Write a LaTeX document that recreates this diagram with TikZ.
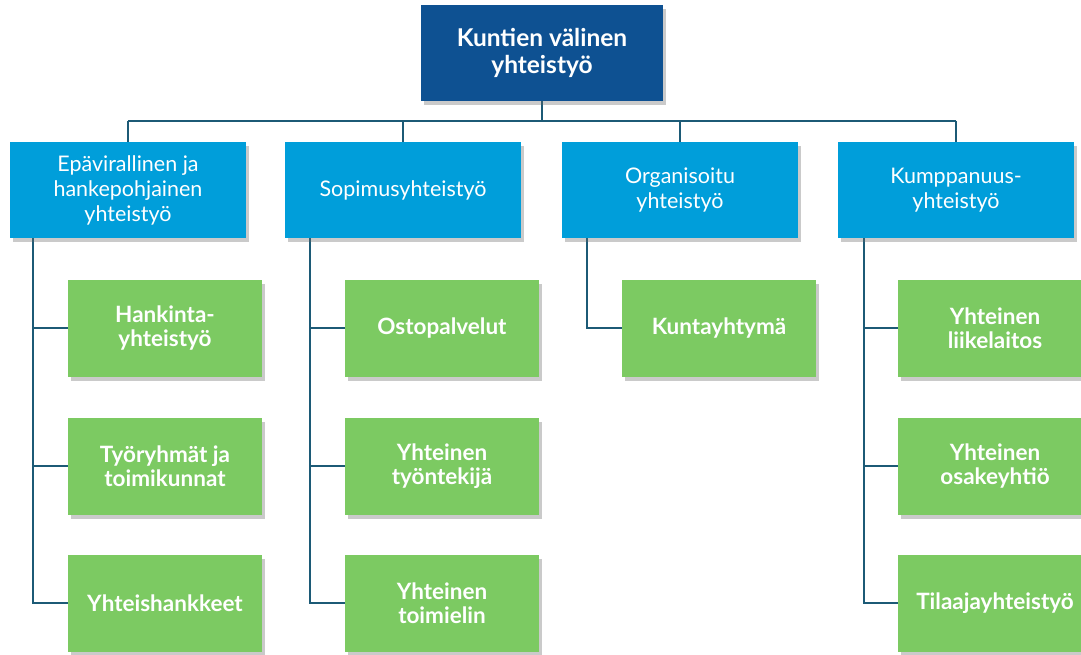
\documentclass[tikz,border=0pt]{standalone}
\usepackage{fontspec}
\setmainfont{Lato}
\usetikzlibrary{shadows}
\pgfdeclarelayer{background}
\pgfsetlayers{background,main}
\definecolor{topblue}{RGB}{14,81,146}
\definecolor{midblue}{RGB}{0,158,218}
\definecolor{leafgreen}{RGB}{124,202,98}
\definecolor{linkteal}{RGB}{28,90,118}
\tikzset{
  boxshadow/.style={drop shadow={shadow xshift=3pt,shadow yshift=-4pt,opacity=0.35,fill=black!60}},
  rootbox/.style={boxshadow,fill=topblue,text=white,minimum width=242pt,minimum height=96pt,
    align=center,font=\fontsize{24.5}{27}\selectfont\bfseries,inner sep=0pt},
  catbox/.style={boxshadow,fill=midblue,text=white,minimum width=236pt,minimum height=96pt,
    align=center,font=\fontsize{21.5}{25}\selectfont,inner sep=0pt},
  leafbox/.style={boxshadow,fill=leafgreen,text=white,minimum width=194pt,minimum height=97pt,
    align=center,font=\fontsize{22.5}{24.5}\selectfont\bfseries,inner sep=0pt},
  link/.style={draw=linkteal,line width=2pt}
}
\begin{document}
\begin{tikzpicture}[x=1pt,y=-1pt]
\useasboundingbox (0,0) rectangle (1081,655);

% level of the horizontal bus under the root
\coordinate (bus) at (0,121);

% boxes
\node[rootbox] (root) at (542,53) {Kuntien välinen\\yhteistyö};

\node[catbox] (c1) at (128,190) {Epävirallinen ja\\hankepohjainen\\yhteistyö};
\node[catbox] (c2) at (403,190) {Sopimusyhteistyö};
\node[catbox] (c3) at (680,190) {Organisoitu\\yhteistyö};
\node[catbox] (c4) at (956,190) {Kumppanuus-\\yhteistyö};

\node[leafbox] (a1) at (165,328) {Hankinta-\\yhteistyö};
\node[leafbox] (a2) at (165,466) {Työryhmät ja\\toimikunnat};
\node[leafbox] (a3) at (165,603) {Yhteishankkeet};

\node[leafbox] (b1) at (442,328) {Ostopalvelut};
\node[leafbox] (b2) at (442,466) {Yhteinen\\työntekijä};
\node[leafbox] (b3) at (442,603) {Yhteinen\\toimielin};

\node[leafbox] (d1) at (719,328) {Kuntayhtymä};

\node[leafbox] (e1) at (995,328) {Yhteinen\\liikelaitos};
\node[leafbox] (e2) at (995,466) {Yhteinen\\osakeyhtiö};
\node[leafbox] (e3) at (995,603) {Tilaajayhteistyö};

% tree connectors behind the boxes
\begin{pgfonlayer}{background}
\draw[link] (root.south) -- (root.south |- bus);
\draw[link] (c1.north |- bus) -- (c4.north |- bus);
\foreach \c in {c1,c2,c3,c4} \draw[link] (\c.north |- bus) -- (\c.north);

\draw[link] ([xshift=23pt]c1.south west) |- (a3.west);
\draw[link] ([xshift=23pt]c1.south west |- a1.west) -- (a1.west);
\draw[link] ([xshift=23pt]c1.south west |- a2.west) -- (a2.west);

\draw[link] ([xshift=25pt]c2.south west) |- (b3.west);
\draw[link] ([xshift=25pt]c2.south west |- b1.west) -- (b1.west);
\draw[link] ([xshift=25pt]c2.south west |- b2.west) -- (b2.west);

\draw[link] ([xshift=25pt]c3.south west) |- (d1.west);

\draw[link] ([xshift=26pt]c4.south west) |- (e3.west);
\draw[link] ([xshift=26pt]c4.south west |- e1.west) -- (e1.west);
\draw[link] ([xshift=26pt]c4.south west |- e2.west) -- (e2.west);
\end{pgfonlayer}
\end{tikzpicture}
\end{document}
